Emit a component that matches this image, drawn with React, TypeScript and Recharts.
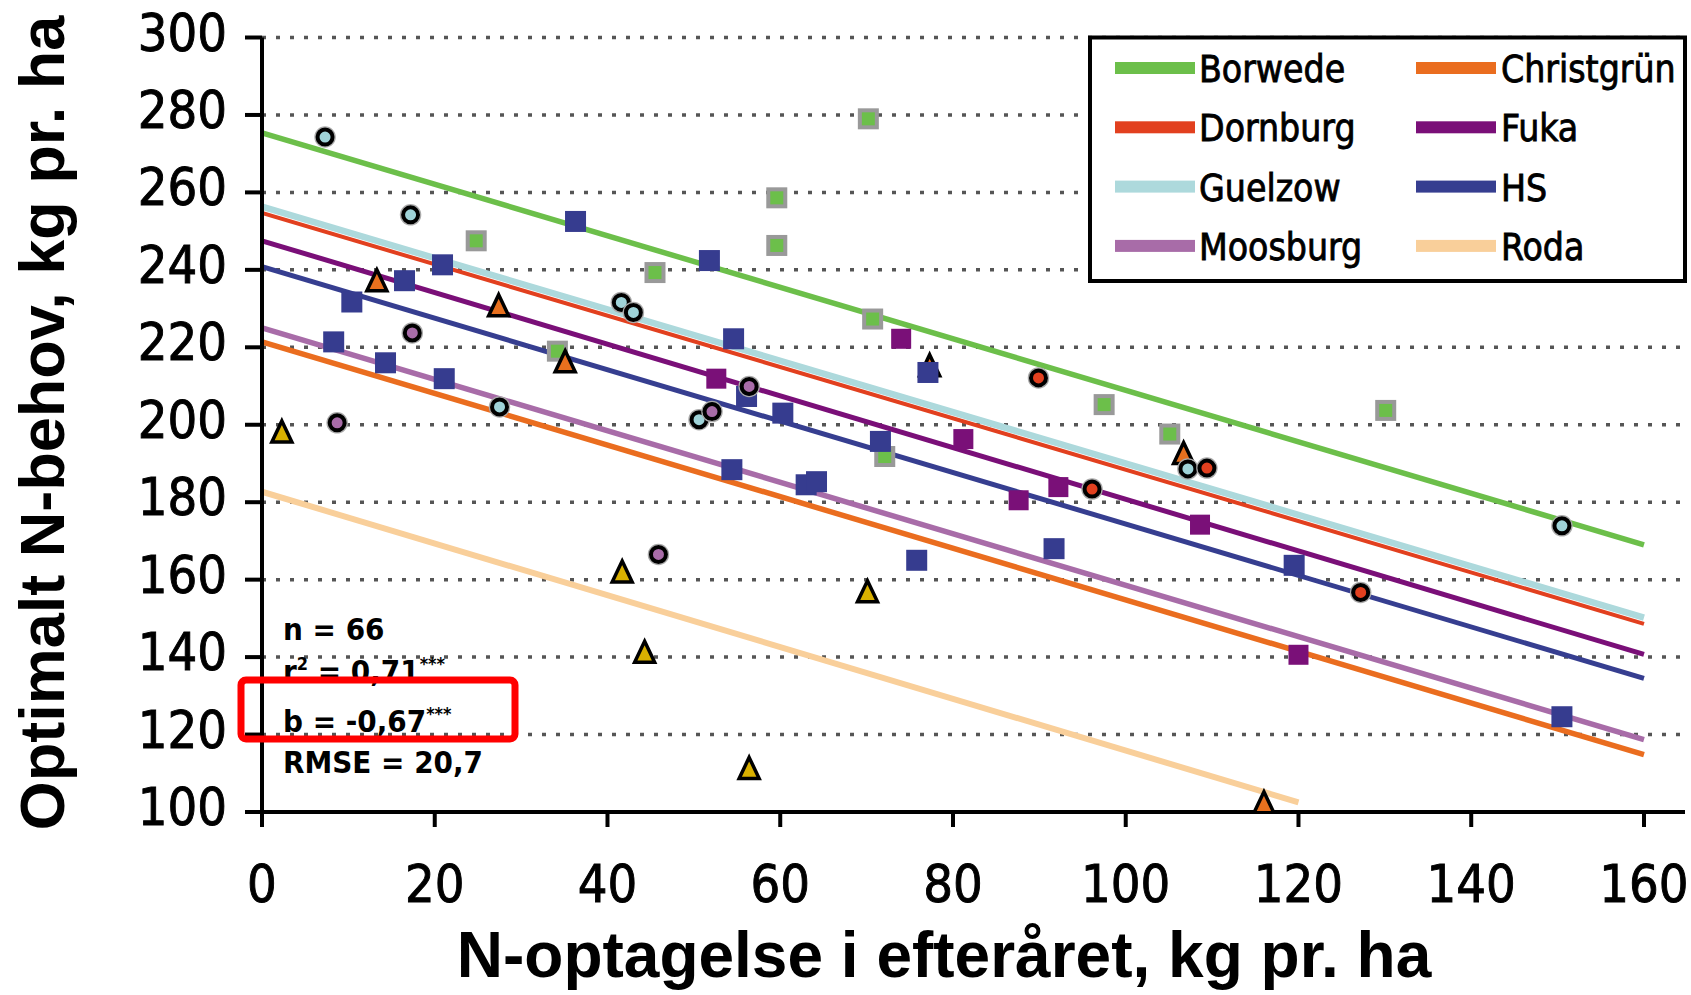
import { CartesianGrid, ComposedChart, Line, Scatter, XAxis, YAxis } from 'recharts'

const COND = "'DejaVu Sans Condensed', 'DejaVu Sans', sans-serif"
const ARIAL = "'Liberation Sans', Arial, sans-serif"

const sites = ['Borwede', 'Christgrün', 'Dornburg', 'Fuka', 'Guelzow', 'HS', 'Moosburg', 'Roda']
const siteColors = ['#6cbf4a', '#ea6d1f', '#e2401f', '#7a0f78', '#add9dc', '#363e90', '#a86ca8', '#f9cf9a']

// regression lines: value at x = 0 and at the end of each line
const lineStart = [275.4, 221.4, 254.7, 247.5, 256.3, 240.8, 225, 182.7]
const lineEndValue = [169, 114.8, 148.6, 140.7, 150.2, 134.5, 118.7, 102.5]
const lineEndX = [160, 160, 160, 160, 160, 160, 160, 120]
const lineWidths = [5.5, 5.5, 4, 5, 6.5, 5, 5.5, 6]
// draw order of the lines (index into sites)
const lineOrder = [6, 1, 7, 2, 4, 3, 5, 0]

// observations [N-optagelse, optimalt N-behov]
const borwedePts = [[24.8, 247.5], [34.2, 219], [45.5, 239.3], [59.6, 258.6], [59.6, 246.3], [70.2, 279], [70.7, 227.3], [72.1, 191.8], [97.5, 205.2], [105.1, 197.6], [130.1, 203.7]]
const christgrunPts = [[13.3, 236.9], [27.4, 230.5], [35.1, 216], [77.3, 215], [106.7, 192.3], [116, 102.1]]
const rodaPts = [[2.3, 197.9], [41.7, 161.7], [44.3, 141], [56.4, 111], [70.1, 156.6]]
const fukaPts = [[52.6, 211.9], [74, 222.2], [81.2, 196.3], [87.6, 180.5], [92.2, 183.9], [108.6, 174.2], [120, 140.6]]
const hsPts = [[8.3, 221.4], [10.4, 231.7], [14.3, 216], [16.5, 237.2], [20.9, 241.3], [21.1, 211.9], [36.3, 252.5], [51.8, 242.4], [54.6, 222.2], [54.4, 188.4], [56.1, 207.3], [60.3, 203], [63, 184.5], [64.2, 185.3], [71.6, 195.7], [75.8, 165], [77.1, 213.5], [91.7, 168], [119.5, 163.7], [150.5, 124.6]]
const guelzowPts = [[7.3, 274.3], [17.2, 254.2], [27.5, 204.6], [41.6, 231.6], [43, 229], [50.6, 201.3], [107.2, 188.6], [150.5, 173.9]]
const dornburgPts = [[89.9, 212.1], [96.1, 183.4], [109.4, 188.8], [127.2, 156.7]]
const moosburgPts = [[8.7, 200.5], [17.4, 223.7], [45.9, 166.5], [52.1, 203.4], [56.4, 209.9]]

const xTicks = [0, 20, 40, 60, 80, 100, 120, 140, 160]
const yTicks = [100, 120, 140, 160, 180, 200, 220, 240, 260, 280, 300]

const toRows = (pts: number[][]) => pts.map(([x, y]) => ({ x, y }))

const square = (size: number, fill: string, stroke?: string, sw = 0) => (p: any) => (
  <rect
    x={p.cx - size / 2 + sw / 2}
    y={p.cy - size / 2 + sw / 2}
    width={size - sw}
    height={size - sw}
    fill={fill}
    stroke={stroke ?? 'none'}
    strokeWidth={sw}
  />
)

const ring = (fill: string) => (p: any) => (
  <g>
    <circle cx={p.cx} cy={p.cy} r={10} fill="none" stroke="#aaa" strokeWidth={1.5} />
    <circle cx={p.cx} cy={p.cy} r={7.5} fill={fill} stroke="#000" strokeWidth={4} />
  </g>
)

const triangle = (fill: string) => (p: any) => (
  <path
    d={`M${p.cx},${p.cy - 12} L${p.cx + 10},${p.cy + 9} L${p.cx - 10},${p.cy + 9} Z`}
    fill={fill}
    stroke="#000"
    strokeWidth={3.5}
    strokeLinejoin="miter"
  />
)

function YTick({ x, y, payload }: any) {
  return (
    <text x={x} y={y + 13} textAnchor="end" fontFamily={COND} fontSize={52} fill="#000" stroke="#000" strokeWidth={0.9}>
      {payload.value}
    </text>
  )
}

function XTick({ x, y, payload }: any) {
  return (
    <text x={x} y={y} textAnchor="middle" fontFamily={COND} fontSize={52} fill="#000" stroke="#000" strokeWidth={0.9}>
      {payload.value}
    </text>
  )
}

const legendRows = [
  [0, 1],
  [2, 3],
  [4, 5],
  [6, 7],
]

export default function App() {
  return (
    <div style={{ position: 'absolute', left: 0, top: 0, width: 1691, height: 995, background: '#fff' }}>
      <ComposedChart
        width={1691}
        height={995}
        margin={{ top: 37.5, right: 6, bottom: 83, left: 162 }}
      >
        <CartesianGrid vertical={false} stroke="#555" strokeWidth={3.5} strokeDasharray="4 10" />
        <XAxis
          dataKey="x"
          type="number"
          domain={[0, 164.75]}
          allowDataOverflow
          ticks={xTicks}
          height={100}
          tickSize={15}
          tickMargin={75}
          axisLine={{ stroke: '#000', strokeWidth: 4 }}
          tickLine={{ stroke: '#000', strokeWidth: 4 }}
          tick={<XTick />}
          interval={0}
        />
        <XAxis
          xAxisId="top"
          orientation="top"
          type="number"
          domain={[0, 164.75]}
          height={0}
          tick={false}
          tickLine={false}
          axisLine={{ stroke: '#000', strokeWidth: 4 }}
        />
        <YAxis
          dataKey="y"
          type="number"
          domain={[100, 300]}
          allowDataOverflow
          ticks={yTicks}
          width={100}
          tickSize={17}
          tickMargin={18}
          axisLine={{ stroke: '#000', strokeWidth: 4 }}
          tickLine={{ stroke: '#000', strokeWidth: 4 }}
          tick={<YTick />}
          interval={0}
        />
        <YAxis
          yAxisId="right"
          orientation="right"
          type="number"
          domain={[100, 300]}
          width={0}
          tick={false}
          tickLine={false}
          axisLine={{ stroke: '#000', strokeWidth: 4 }}
        />

        {lineOrder.map((i) => (
          <Line
            key={sites[i]}
            data={[
              { x: 0, y: lineStart[i] },
              { x: lineEndX[i], y: lineEndValue[i] },
            ]}
            dataKey="y"
            stroke={siteColors[i]}
            strokeWidth={lineWidths[i]}
            dot={false}
            activeDot={false}
            isAnimationActive={false}
          />
        ))}

        <Scatter data={toRows(borwedePts)} shape={square(21, '#6cbf4a', '#999', 4)} isAnimationActive={false} />
        <Scatter data={toRows(christgrunPts)} shape={triangle('#e8701e')} isAnimationActive={false} />
        <Scatter data={toRows(rodaPts)} shape={triangle('#d9b000')} isAnimationActive={false} />
        <Scatter data={toRows(fukaPts)} shape={square(20, '#7a1078')} isAnimationActive={false} />
        <Scatter data={toRows(hsPts)} shape={square(21, '#363c8f')} isAnimationActive={false} />
        <Scatter data={toRows(guelzowPts)} shape={ring('#9fd3d8')} isAnimationActive={false} />
        <Scatter data={toRows(dornburgPts)} shape={ring('#e2401f')} isAnimationActive={false} />
        <Scatter data={toRows(moosburgPts)} shape={ring('#a86ca8')} isAnimationActive={false} />
      </ComposedChart>

      <svg
        width={1691}
        height={995}
        style={{ position: 'absolute', left: 0, top: 0, pointerEvents: 'none' }}
      >
        <text
          transform="translate(64,423) rotate(-90)"
          textAnchor="middle"
          fontFamily={ARIAL}
          fontWeight="bold"
          fontSize={63}
          fill="#000"
        >
          Optimalt N-behov, kg pr. ha
        </text>
        <text x={944} y={977} textAnchor="middle" fontFamily={ARIAL} fontWeight="bold" fontSize={64} fill="#000">
          N-optagelse i efteråret, kg pr. ha
        </text>

        <g fontFamily={COND} fontWeight="bold" fontSize={31} fill="#000">
          <text x={283} y={640}>n = 66</text>
          <text x={283} y={682}>
            r<tspan fontSize={18} dy={-12}>2</tspan>
            <tspan dy={12}> = 0,71</tspan>
            <tspan fontSize={18} dy={-12}>***</tspan>
          </text>
          <text x={283} y={732}>
            b = -0,67<tspan fontSize={18} dy={-12}>***</tspan>
          </text>
          <text x={283} y={773}>RMSE = 20,7</text>
        </g>
        <rect x={241} y={680} width={274} height={59} rx={5} fill="none" stroke="#ff0000" strokeWidth={7} />

        <rect x={1090} y={37.5} width={595} height={243.5} fill="#fff" stroke="#000" strokeWidth={4} />
        {legendRows.map((row, r) =>
          row.map((i, c) => {
            const lx = c === 0 ? 1115 : 1416
            const tx = c === 0 ? 1199 : 1501
            const cy = 68 + r * 59.3
            return (
              <g key={sites[i]}>
                <rect x={lx} y={cy - 6} width={80} height={12} fill={siteColors[i]} />
                <text x={tx} y={cy + 14} fontFamily={COND} fontSize={37} fill="#000" stroke="#000" strokeWidth={0.8}>
                  {sites[i]}
                </text>
              </g>
            )
          })
        )}
      </svg>
    </div>
  )
}
